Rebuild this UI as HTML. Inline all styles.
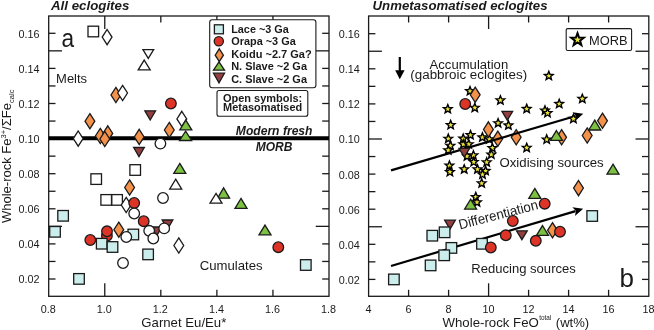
<!DOCTYPE html>
<html><head><meta charset="utf-8"><style>
html,body{margin:0;padding:0;background:#fff;}
body{width:654px;height:330px;overflow:hidden;font-family:"Liberation Sans", sans-serif;}
svg{display:block;will-change:transform;}
</style></head><body>
<svg width="654" height="330" viewBox="0 0 654 330" font-family='"Liberation Sans", sans-serif' fill="#1a1a1a">
<rect width="654" height="330" fill="#fff"/>
<rect x="48.7" y="16.0" width="280.30" height="280.30" fill="none" stroke="#1a1a1a" stroke-width="1.3"/>
<line x1="48.7" y1="279.00" x2="55.5" y2="279.00" stroke="#1a1a1a" stroke-width="1.3"/>
<line x1="329.0" y1="279.00" x2="322.2" y2="279.00" stroke="#1a1a1a" stroke-width="1.3"/>
<line x1="48.7" y1="261.45" x2="55.5" y2="261.45" stroke="#1a1a1a" stroke-width="1.3"/>
<line x1="329.0" y1="261.45" x2="322.2" y2="261.45" stroke="#1a1a1a" stroke-width="1.3"/>
<line x1="48.7" y1="243.90" x2="55.5" y2="243.90" stroke="#1a1a1a" stroke-width="1.3"/>
<line x1="329.0" y1="243.90" x2="322.2" y2="243.90" stroke="#1a1a1a" stroke-width="1.3"/>
<line x1="48.7" y1="226.35" x2="62.0" y2="226.35" stroke="#1a1a1a" stroke-width="1.3"/>
<line x1="329.0" y1="226.35" x2="315.7" y2="226.35" stroke="#1a1a1a" stroke-width="1.3"/>
<line x1="48.7" y1="208.80" x2="55.5" y2="208.80" stroke="#1a1a1a" stroke-width="1.3"/>
<line x1="329.0" y1="208.80" x2="322.2" y2="208.80" stroke="#1a1a1a" stroke-width="1.3"/>
<line x1="48.7" y1="191.25" x2="55.5" y2="191.25" stroke="#1a1a1a" stroke-width="1.3"/>
<line x1="329.0" y1="191.25" x2="322.2" y2="191.25" stroke="#1a1a1a" stroke-width="1.3"/>
<line x1="48.7" y1="173.70" x2="55.5" y2="173.70" stroke="#1a1a1a" stroke-width="1.3"/>
<line x1="329.0" y1="173.70" x2="322.2" y2="173.70" stroke="#1a1a1a" stroke-width="1.3"/>
<line x1="48.7" y1="156.15" x2="55.5" y2="156.15" stroke="#1a1a1a" stroke-width="1.3"/>
<line x1="329.0" y1="156.15" x2="322.2" y2="156.15" stroke="#1a1a1a" stroke-width="1.3"/>
<line x1="48.7" y1="138.60" x2="62.0" y2="138.60" stroke="#1a1a1a" stroke-width="1.3"/>
<line x1="329.0" y1="138.60" x2="315.7" y2="138.60" stroke="#1a1a1a" stroke-width="1.3"/>
<line x1="48.7" y1="121.05" x2="55.5" y2="121.05" stroke="#1a1a1a" stroke-width="1.3"/>
<line x1="329.0" y1="121.05" x2="322.2" y2="121.05" stroke="#1a1a1a" stroke-width="1.3"/>
<line x1="48.7" y1="103.50" x2="55.5" y2="103.50" stroke="#1a1a1a" stroke-width="1.3"/>
<line x1="329.0" y1="103.50" x2="322.2" y2="103.50" stroke="#1a1a1a" stroke-width="1.3"/>
<line x1="48.7" y1="85.95" x2="55.5" y2="85.95" stroke="#1a1a1a" stroke-width="1.3"/>
<line x1="329.0" y1="85.95" x2="322.2" y2="85.95" stroke="#1a1a1a" stroke-width="1.3"/>
<line x1="48.7" y1="68.40" x2="55.5" y2="68.40" stroke="#1a1a1a" stroke-width="1.3"/>
<line x1="329.0" y1="68.40" x2="322.2" y2="68.40" stroke="#1a1a1a" stroke-width="1.3"/>
<line x1="48.7" y1="50.85" x2="62.0" y2="50.85" stroke="#1a1a1a" stroke-width="1.3"/>
<line x1="329.0" y1="50.85" x2="315.7" y2="50.85" stroke="#1a1a1a" stroke-width="1.3"/>
<line x1="48.7" y1="33.30" x2="55.5" y2="33.30" stroke="#1a1a1a" stroke-width="1.3"/>
<line x1="329.0" y1="33.30" x2="322.2" y2="33.30" stroke="#1a1a1a" stroke-width="1.3"/>
<line x1="104.76" y1="16.0" x2="104.76" y2="29.0" stroke="#1a1a1a" stroke-width="1.3"/>
<line x1="104.76" y1="296.3" x2="104.76" y2="283.3" stroke="#1a1a1a" stroke-width="1.3"/>
<line x1="160.82" y1="16.0" x2="160.82" y2="22.5" stroke="#1a1a1a" stroke-width="1.3"/>
<line x1="160.82" y1="296.3" x2="160.82" y2="289.8" stroke="#1a1a1a" stroke-width="1.3"/>
<line x1="216.88" y1="16.0" x2="216.88" y2="22.5" stroke="#1a1a1a" stroke-width="1.3"/>
<line x1="216.88" y1="296.3" x2="216.88" y2="289.8" stroke="#1a1a1a" stroke-width="1.3"/>
<line x1="272.94" y1="16.0" x2="272.94" y2="22.5" stroke="#1a1a1a" stroke-width="1.3"/>
<line x1="272.94" y1="296.3" x2="272.94" y2="289.8" stroke="#1a1a1a" stroke-width="1.3"/>
<rect x="368.6" y="16.0" width="280.20" height="280.30" fill="none" stroke="#1a1a1a" stroke-width="1.3"/>
<line x1="368.6" y1="279.40" x2="375.40000000000003" y2="279.40" stroke="#1a1a1a" stroke-width="1.3"/>
<line x1="648.8" y1="279.40" x2="642.0" y2="279.40" stroke="#1a1a1a" stroke-width="1.3"/>
<line x1="368.6" y1="261.85" x2="375.40000000000003" y2="261.85" stroke="#1a1a1a" stroke-width="1.3"/>
<line x1="648.8" y1="261.85" x2="642.0" y2="261.85" stroke="#1a1a1a" stroke-width="1.3"/>
<line x1="368.6" y1="244.30" x2="375.40000000000003" y2="244.30" stroke="#1a1a1a" stroke-width="1.3"/>
<line x1="648.8" y1="244.30" x2="642.0" y2="244.30" stroke="#1a1a1a" stroke-width="1.3"/>
<line x1="368.6" y1="226.75" x2="381.90000000000003" y2="226.75" stroke="#1a1a1a" stroke-width="1.3"/>
<line x1="648.8" y1="226.75" x2="635.5" y2="226.75" stroke="#1a1a1a" stroke-width="1.3"/>
<line x1="368.6" y1="209.20" x2="375.40000000000003" y2="209.20" stroke="#1a1a1a" stroke-width="1.3"/>
<line x1="648.8" y1="209.20" x2="642.0" y2="209.20" stroke="#1a1a1a" stroke-width="1.3"/>
<line x1="368.6" y1="191.65" x2="375.40000000000003" y2="191.65" stroke="#1a1a1a" stroke-width="1.3"/>
<line x1="648.8" y1="191.65" x2="642.0" y2="191.65" stroke="#1a1a1a" stroke-width="1.3"/>
<line x1="368.6" y1="174.10" x2="375.40000000000003" y2="174.10" stroke="#1a1a1a" stroke-width="1.3"/>
<line x1="648.8" y1="174.10" x2="642.0" y2="174.10" stroke="#1a1a1a" stroke-width="1.3"/>
<line x1="368.6" y1="156.55" x2="375.40000000000003" y2="156.55" stroke="#1a1a1a" stroke-width="1.3"/>
<line x1="648.8" y1="156.55" x2="642.0" y2="156.55" stroke="#1a1a1a" stroke-width="1.3"/>
<line x1="368.6" y1="139.00" x2="381.90000000000003" y2="139.00" stroke="#1a1a1a" stroke-width="1.3"/>
<line x1="648.8" y1="139.00" x2="635.5" y2="139.00" stroke="#1a1a1a" stroke-width="1.3"/>
<line x1="368.6" y1="121.45" x2="375.40000000000003" y2="121.45" stroke="#1a1a1a" stroke-width="1.3"/>
<line x1="648.8" y1="121.45" x2="642.0" y2="121.45" stroke="#1a1a1a" stroke-width="1.3"/>
<line x1="368.6" y1="103.90" x2="375.40000000000003" y2="103.90" stroke="#1a1a1a" stroke-width="1.3"/>
<line x1="648.8" y1="103.90" x2="642.0" y2="103.90" stroke="#1a1a1a" stroke-width="1.3"/>
<line x1="368.6" y1="86.35" x2="375.40000000000003" y2="86.35" stroke="#1a1a1a" stroke-width="1.3"/>
<line x1="648.8" y1="86.35" x2="642.0" y2="86.35" stroke="#1a1a1a" stroke-width="1.3"/>
<line x1="368.6" y1="68.80" x2="375.40000000000003" y2="68.80" stroke="#1a1a1a" stroke-width="1.3"/>
<line x1="648.8" y1="68.80" x2="642.0" y2="68.80" stroke="#1a1a1a" stroke-width="1.3"/>
<line x1="368.6" y1="51.25" x2="381.90000000000003" y2="51.25" stroke="#1a1a1a" stroke-width="1.3"/>
<line x1="648.8" y1="51.25" x2="635.5" y2="51.25" stroke="#1a1a1a" stroke-width="1.3"/>
<line x1="368.6" y1="33.70" x2="375.40000000000003" y2="33.70" stroke="#1a1a1a" stroke-width="1.3"/>
<line x1="648.8" y1="33.70" x2="642.0" y2="33.70" stroke="#1a1a1a" stroke-width="1.3"/>
<line x1="408.60" y1="16.0" x2="408.60" y2="22.5" stroke="#1a1a1a" stroke-width="1.3"/>
<line x1="408.60" y1="296.3" x2="408.60" y2="289.8" stroke="#1a1a1a" stroke-width="1.3"/>
<line x1="448.60" y1="16.0" x2="448.60" y2="22.5" stroke="#1a1a1a" stroke-width="1.3"/>
<line x1="448.60" y1="296.3" x2="448.60" y2="289.8" stroke="#1a1a1a" stroke-width="1.3"/>
<line x1="488.60" y1="16.0" x2="488.60" y2="29.0" stroke="#1a1a1a" stroke-width="1.3"/>
<line x1="488.60" y1="296.3" x2="488.60" y2="283.3" stroke="#1a1a1a" stroke-width="1.3"/>
<line x1="528.60" y1="16.0" x2="528.60" y2="22.5" stroke="#1a1a1a" stroke-width="1.3"/>
<line x1="528.60" y1="296.3" x2="528.60" y2="289.8" stroke="#1a1a1a" stroke-width="1.3"/>
<line x1="568.60" y1="16.0" x2="568.60" y2="22.5" stroke="#1a1a1a" stroke-width="1.3"/>
<line x1="568.60" y1="296.3" x2="568.60" y2="289.8" stroke="#1a1a1a" stroke-width="1.3"/>
<line x1="608.60" y1="16.0" x2="608.60" y2="22.5" stroke="#1a1a1a" stroke-width="1.3"/>
<line x1="608.60" y1="296.3" x2="608.60" y2="289.8" stroke="#1a1a1a" stroke-width="1.3"/>
<text x="39.5" y="283.4" font-size="10.8" text-anchor="end" font-weight="normal" font-style="normal">0.02</text>
<text x="359.8" y="283.8" font-size="10.8" text-anchor="end" font-weight="normal" font-style="normal">0.02</text>
<text x="39.5" y="248.3" font-size="10.8" text-anchor="end" font-weight="normal" font-style="normal">0.04</text>
<text x="359.8" y="248.7" font-size="10.8" text-anchor="end" font-weight="normal" font-style="normal">0.04</text>
<text x="39.5" y="213.2" font-size="10.8" text-anchor="end" font-weight="normal" font-style="normal">0.06</text>
<text x="359.8" y="213.6" font-size="10.8" text-anchor="end" font-weight="normal" font-style="normal">0.06</text>
<text x="39.5" y="178.1" font-size="10.8" text-anchor="end" font-weight="normal" font-style="normal">0.08</text>
<text x="359.8" y="178.5" font-size="10.8" text-anchor="end" font-weight="normal" font-style="normal">0.08</text>
<text x="39.5" y="143.0" font-size="10.8" text-anchor="end" font-weight="normal" font-style="normal">0.10</text>
<text x="359.8" y="143.4" font-size="10.8" text-anchor="end" font-weight="normal" font-style="normal">0.10</text>
<text x="39.5" y="107.9" font-size="10.8" text-anchor="end" font-weight="normal" font-style="normal">0.12</text>
<text x="359.8" y="108.3" font-size="10.8" text-anchor="end" font-weight="normal" font-style="normal">0.12</text>
<text x="39.5" y="72.8" font-size="10.8" text-anchor="end" font-weight="normal" font-style="normal">0.14</text>
<text x="359.8" y="73.2" font-size="10.8" text-anchor="end" font-weight="normal" font-style="normal">0.14</text>
<text x="39.5" y="37.7" font-size="10.8" text-anchor="end" font-weight="normal" font-style="normal">0.16</text>
<text x="359.8" y="38.1" font-size="10.8" text-anchor="end" font-weight="normal" font-style="normal">0.16</text>
<text x="48.2" y="312.7" font-size="10.8" text-anchor="middle" font-weight="normal" font-style="normal">0.8</text>
<text x="104.3" y="312.7" font-size="10.8" text-anchor="middle" font-weight="normal" font-style="normal">1.0</text>
<text x="160.3" y="312.7" font-size="10.8" text-anchor="middle" font-weight="normal" font-style="normal">1.2</text>
<text x="216.4" y="312.7" font-size="10.8" text-anchor="middle" font-weight="normal" font-style="normal">1.4</text>
<text x="272.4" y="312.7" font-size="10.8" text-anchor="middle" font-weight="normal" font-style="normal">1.6</text>
<text x="328.5" y="312.7" font-size="10.8" text-anchor="middle" font-weight="normal" font-style="normal">1.8</text>
<text x="368.6" y="312.7" font-size="10.8" text-anchor="middle" font-weight="normal" font-style="normal">4</text>
<text x="408.6" y="312.7" font-size="10.8" text-anchor="middle" font-weight="normal" font-style="normal">6</text>
<text x="448.6" y="312.7" font-size="10.8" text-anchor="middle" font-weight="normal" font-style="normal">8</text>
<text x="488.6" y="312.7" font-size="10.8" text-anchor="middle" font-weight="normal" font-style="normal">10</text>
<text x="528.6" y="312.7" font-size="10.8" text-anchor="middle" font-weight="normal" font-style="normal">12</text>
<text x="568.6" y="312.7" font-size="10.8" text-anchor="middle" font-weight="normal" font-style="normal">14</text>
<text x="608.6" y="312.7" font-size="10.8" text-anchor="middle" font-weight="normal" font-style="normal">16</text>
<text x="648.6" y="312.7" font-size="10.8" text-anchor="middle" font-weight="normal" font-style="normal">18</text>
<text x="51" y="9.6" font-size="13.2" text-anchor="start" font-weight="bold" font-style="italic" textLength="78.3" lengthAdjust="spacingAndGlyphs">All eclogites</text>
<text x="372.5" y="9.6" font-size="13.2" text-anchor="start" font-weight="bold" font-style="italic" textLength="175" lengthAdjust="spacingAndGlyphs">Unmetasomatised eclogites</text>
<text x="141.3" y="327.3" font-size="13" text-anchor="start" font-weight="normal" font-style="normal" textLength="85" lengthAdjust="spacingAndGlyphs">Garnet Eu/Eu*</text>
<text x="442.5" y="327.2" font-size="13" text-anchor="start" font-weight="normal" font-style="normal" textLength="96.3" lengthAdjust="spacingAndGlyphs">Whole-rock FeO</text>
<text x="539.2" y="320.3" font-size="6.8" text-anchor="start" font-weight="normal" font-style="normal" textLength="12.1" lengthAdjust="spacingAndGlyphs">total</text>
<text x="555.8" y="327.2" font-size="13" text-anchor="start" font-weight="normal" font-style="normal" textLength="33.4" lengthAdjust="spacingAndGlyphs">(wt%)</text>
<text transform="translate(11.0,223.0) rotate(-90)" x="0" y="0" font-size="13">Whole-rock Fe<tspan font-size="7.5" dy="-5">3+</tspan><tspan dy="5">/&#931;Fe</tspan><tspan font-size="7.6" dy="3">calc</tspan></text>
<line x1="48.7" y1="138.2" x2="329.0" y2="138.2" stroke="#000" stroke-width="4"/>
<text x="61.6" y="47.0" font-size="26.5" text-anchor="start" font-weight="normal" font-style="normal" textLength="12.6" lengthAdjust="spacingAndGlyphs">a</text>
<text x="56.1" y="82.6" font-size="13" text-anchor="start" font-weight="normal" font-style="normal" textLength="31.0" lengthAdjust="spacingAndGlyphs">Melts</text>
<text x="199.7" y="269.6" font-size="13.2" text-anchor="start" font-weight="normal" font-style="normal" textLength="63.0" lengthAdjust="spacingAndGlyphs">Cumulates</text>
<text x="235.8" y="134.5" font-size="12" text-anchor="start" font-weight="bold" font-style="italic" textLength="76.7" lengthAdjust="spacingAndGlyphs">Modern fresh</text>
<text x="255.7" y="150.8" font-size="12" text-anchor="start" font-weight="bold" font-style="italic" textLength="36.7" lengthAdjust="spacingAndGlyphs">MORB</text>
<rect x="88.00" y="26.20" width="10.6" height="10.6" fill="#fff" stroke="#1a1a1a" stroke-width="1.3"/>
<path d="M107.10 29.50L112.00 37.10L107.10 44.70L102.20 37.10Z" fill="#fff" stroke="#1a1a1a" stroke-width="1.3"/>
<path d="M148.30 58.40L153.65 49.70L142.95 49.70Z" fill="#fff" stroke="#1a1a1a" stroke-width="1.3"/>
<path d="M144.20 60.10L150.20 69.80L138.20 69.80Z" fill="#fff" stroke="#1a1a1a" stroke-width="1.3" stroke-linejoin="miter"/>
<path d="M115.90 87.40L120.80 95.00L115.90 102.60L111.00 95.00Z" fill="#f4924b" stroke="#1a1a1a" stroke-width="1.3"/>
<path d="M122.60 85.40L127.50 93.00L122.60 100.60L117.70 93.00Z" fill="#fff" stroke="#1a1a1a" stroke-width="1.3"/>
<circle cx="170.90" cy="103.50" r="5.3" fill="#de3427" stroke="#1a1a1a" stroke-width="1.3"/>
<path d="M150.20 120.00L155.55 110.80L144.85 110.80Z" fill="#933f3f" stroke="#1a1a1a" stroke-width="1.3"/>
<path d="M89.90 113.60L94.80 121.20L89.90 128.80L85.00 121.20Z" fill="#f4924b" stroke="#1a1a1a" stroke-width="1.3"/>
<path d="M181.80 111.30L186.70 118.90L181.80 126.50L176.90 118.90Z" fill="#fff" stroke="#1a1a1a" stroke-width="1.3"/>
<path d="M185.80 120.10L191.80 129.80L179.80 129.80Z" fill="#7cc142" stroke="#1a1a1a" stroke-width="1.3" stroke-linejoin="miter"/>
<path d="M169.30 122.40L174.20 130.00L169.30 137.60L164.40 130.00Z" fill="#f4924b" stroke="#1a1a1a" stroke-width="1.3"/>
<path d="M185.60 131.20L191.60 140.50L179.60 140.50Z" fill="#7cc142" stroke="#1a1a1a" stroke-width="1.3" stroke-linejoin="miter"/>
<path d="M78.20 131.00L83.10 138.60L78.20 146.20L73.30 138.60Z" fill="#fff" stroke="#1a1a1a" stroke-width="1.3"/>
<path d="M100.30 128.40L105.20 136.00L100.30 143.60L95.40 136.00Z" fill="#f4924b" stroke="#1a1a1a" stroke-width="1.3"/>
<path d="M107.80 125.80L112.70 133.40L107.80 141.00L102.90 133.40Z" fill="#f4924b" stroke="#1a1a1a" stroke-width="1.3"/>
<path d="M104.80 131.40L109.70 139.00L104.80 146.60L99.90 139.00Z" fill="#f4924b" stroke="#1a1a1a" stroke-width="1.3"/>
<path d="M139.20 129.30L144.10 136.90L139.20 144.50L134.30 136.90Z" fill="#f4924b" stroke="#1a1a1a" stroke-width="1.3"/>
<circle cx="160.40" cy="143.60" r="5.3" fill="#fff" stroke="#1a1a1a" stroke-width="1.3"/>
<path d="M139.00 156.70L144.35 147.50L133.65 147.50Z" fill="#933f3f" stroke="#1a1a1a" stroke-width="1.3"/>
<rect x="129.90" y="164.70" width="10.6" height="10.6" fill="#fff" stroke="#1a1a1a" stroke-width="1.3"/>
<path d="M179.80 163.40L185.80 173.30L173.80 173.30Z" fill="#7cc142" stroke="#1a1a1a" stroke-width="1.3" stroke-linejoin="miter"/>
<rect x="90.90" y="173.80" width="10.6" height="10.6" fill="#fff" stroke="#1a1a1a" stroke-width="1.3"/>
<path d="M175.70 179.20L181.70 189.20L169.70 189.20Z" fill="#fff" stroke="#1a1a1a" stroke-width="1.3" stroke-linejoin="miter"/>
<path d="M129.60 179.90L134.50 187.50L129.60 195.10L124.70 187.50Z" fill="#f4924b" stroke="#1a1a1a" stroke-width="1.3"/>
<path d="M223.60 187.90L229.60 198.20L217.60 198.20Z" fill="#7cc142" stroke="#1a1a1a" stroke-width="1.3" stroke-linejoin="miter"/>
<path d="M216.00 193.40L222.00 203.20L210.00 203.20Z" fill="#fff" stroke="#1a1a1a" stroke-width="1.3" stroke-linejoin="miter"/>
<path d="M241.00 198.40L247.00 208.30L235.00 208.30Z" fill="#7cc142" stroke="#1a1a1a" stroke-width="1.3" stroke-linejoin="miter"/>
<circle cx="163.00" cy="198.00" r="5.3" fill="#fff" stroke="#1a1a1a" stroke-width="1.3"/>
<rect x="100.90" y="194.60" width="10.6" height="10.6" fill="#fff" stroke="#1a1a1a" stroke-width="1.3"/>
<rect x="111.80" y="194.60" width="10.6" height="10.6" fill="#fff" stroke="#1a1a1a" stroke-width="1.3"/>
<path d="M126.20 197.40L131.10 205.00L126.20 212.60L121.30 205.00Z" fill="#fff" stroke="#1a1a1a" stroke-width="1.3"/>
<circle cx="134.20" cy="203.00" r="5.3" fill="#de3427" stroke="#1a1a1a" stroke-width="1.3"/>
<circle cx="134.20" cy="213.50" r="5.3" fill="#fff" stroke="#1a1a1a" stroke-width="1.3"/>
<circle cx="143.70" cy="221.20" r="5.3" fill="#de3427" stroke="#1a1a1a" stroke-width="1.3"/>
<rect x="57.80" y="210.50" width="10.6" height="10.6" fill="#cbeeed" stroke="#1a1a1a" stroke-width="1.3"/>
<path d="M167.50 229.20L172.85 220.00L162.15 220.00Z" fill="#933f3f" stroke="#1a1a1a" stroke-width="1.3"/>
<path d="M156.70 235.70L162.05 227.00L151.35 227.00Z" fill="#933f3f" stroke="#1a1a1a" stroke-width="1.3"/>
<circle cx="164.20" cy="228.40" r="5.3" fill="#fff" stroke="#1a1a1a" stroke-width="1.3"/>
<circle cx="149.20" cy="230.80" r="5.3" fill="#fff" stroke="#1a1a1a" stroke-width="1.3"/>
<circle cx="153.30" cy="238.50" r="5.3" fill="#fff" stroke="#1a1a1a" stroke-width="1.3"/>
<path d="M265.00 225.10L271.00 234.80L259.00 234.80Z" fill="#7cc142" stroke="#1a1a1a" stroke-width="1.3" stroke-linejoin="miter"/>
<circle cx="106.90" cy="235.80" r="5.3" fill="#de3427" stroke="#1a1a1a" stroke-width="1.3"/>
<circle cx="107.00" cy="231.30" r="5.3" fill="#de3427" stroke="#1a1a1a" stroke-width="1.3"/>
<rect x="49.70" y="226.50" width="10.6" height="10.6" fill="#cbeeed" stroke="#1a1a1a" stroke-width="1.3"/>
<circle cx="90.30" cy="240.00" r="5.3" fill="#de3427" stroke="#1a1a1a" stroke-width="1.3"/>
<path d="M118.80 222.10L123.70 229.70L118.80 237.30L113.90 229.70Z" fill="#f4924b" stroke="#1a1a1a" stroke-width="1.3"/>
<rect x="128.00" y="229.20" width="10.6" height="10.6" fill="#cbeeed" stroke="#1a1a1a" stroke-width="1.3"/>
<circle cx="126.30" cy="237.00" r="5.3" fill="#fff" stroke="#1a1a1a" stroke-width="1.3"/>
<rect x="96.40" y="238.40" width="10.6" height="10.6" fill="#cbeeed" stroke="#1a1a1a" stroke-width="1.3"/>
<rect x="107.20" y="241.70" width="10.6" height="10.6" fill="#cbeeed" stroke="#1a1a1a" stroke-width="1.3"/>
<path d="M178.80 237.90L183.70 245.50L178.80 253.10L173.90 245.50Z" fill="#fff" stroke="#1a1a1a" stroke-width="1.3"/>
<circle cx="278.30" cy="247.20" r="5.3" fill="#de3427" stroke="#1a1a1a" stroke-width="1.3"/>
<rect x="142.80" y="249.10" width="10.6" height="10.6" fill="#cbeeed" stroke="#1a1a1a" stroke-width="1.3"/>
<circle cx="123.00" cy="263.00" r="5.3" fill="#fff" stroke="#1a1a1a" stroke-width="1.3"/>
<rect x="300.50" y="259.70" width="10.6" height="10.6" fill="#cbeeed" stroke="#1a1a1a" stroke-width="1.3"/>
<rect x="73.70" y="273.60" width="10.6" height="10.6" fill="#cbeeed" stroke="#1a1a1a" stroke-width="1.3"/>
<rect x="209.7" y="19.7" width="106.2" height="68.0" rx="2.5" fill="#fff" stroke="#1a1a1a" stroke-width="1.1"/>
<rect x="214.40" y="24.80" width="9" height="9" fill="#cbeeed" stroke="#1a1a1a" stroke-width="1.3"/>
<circle cx="218.80" cy="41.30" r="4.6" fill="#de3427" stroke="#1a1a1a" stroke-width="1.3"/>
<path d="M219.30 48.80L223.40 55.20L219.30 61.60L215.20 55.20Z" fill="#f4924b" stroke="#1a1a1a" stroke-width="1.3"/>
<path d="M219.00 61.90L224.50 70.10L213.50 70.10Z" fill="#7cc142" stroke="#1a1a1a" stroke-width="1.3" stroke-linejoin="miter"/>
<path d="M219.00 82.90L224.50 73.20L213.50 73.20Z" fill="#933f3f" stroke="#1a1a1a" stroke-width="1.3"/>
<text x="231.2" y="32.90" font-size="10.3" text-anchor="start" font-weight="bold" font-style="normal" textLength="57.6" lengthAdjust="spacingAndGlyphs">Lace ~3 Ga</text>
<text x="231.2" y="45.35" font-size="10.3" text-anchor="start" font-weight="bold" font-style="normal" textLength="64.6" lengthAdjust="spacingAndGlyphs">Orapa ~3 Ga</text>
<text x="231.2" y="57.80" font-size="10.3" text-anchor="start" font-weight="bold" font-style="normal" textLength="80.5" lengthAdjust="spacingAndGlyphs">Koidu ~2.7 Ga?</text>
<text x="231.2" y="70.25" font-size="10.3" text-anchor="start" font-weight="bold" font-style="normal" textLength="75.8" lengthAdjust="spacingAndGlyphs">N. Slave ~2 Ga</text>
<text x="231.2" y="82.70" font-size="10.3" text-anchor="start" font-weight="bold" font-style="normal" textLength="75.8" lengthAdjust="spacingAndGlyphs">C. Slave ~2 Ga</text>
<rect x="217.0" y="90.5" width="90.8" height="25.7" rx="2" fill="#fff" stroke="#1a1a1a" stroke-width="1.1"/>
<text x="223.0" y="101.7" font-size="10.2" text-anchor="start" font-weight="bold" font-style="normal" textLength="79.2" lengthAdjust="spacingAndGlyphs">Open symbols:</text>
<text x="223.0" y="111.3" font-size="10.2" text-anchor="start" font-weight="bold" font-style="normal" textLength="79.2" lengthAdjust="spacingAndGlyphs">Metasomatised</text>
<circle cx="465.20" cy="104.00" r="5.3" fill="#de3427" stroke="#1a1a1a" stroke-width="1.3"/>
<path d="M507.30 120.20L512.65 111.30L501.95 111.30Z" fill="#933f3f" stroke="#1a1a1a" stroke-width="1.3"/>
<path d="M548.80 71.35L549.98 74.28L553.13 74.49L550.70 76.52L551.47 79.58L548.80 77.90L546.13 79.58L546.90 76.52L544.47 74.49L547.62 74.28Z" fill="#ece43c" stroke="#000" stroke-width="1.4" stroke-linejoin="miter"/>
<path d="M470.00 86.55L471.18 89.48L474.33 89.69L471.90 91.72L472.67 94.78L470.00 93.10L467.33 94.78L468.10 91.72L465.67 89.69L468.82 89.48Z" fill="#ece43c" stroke="#000" stroke-width="1.4" stroke-linejoin="miter"/>
<path d="M500.40 95.75L501.58 98.68L504.73 98.89L502.30 100.92L503.07 103.98L500.40 102.30L497.73 103.98L498.50 100.92L496.07 98.89L499.22 98.68Z" fill="#ece43c" stroke="#000" stroke-width="1.4" stroke-linejoin="miter"/>
<path d="M582.30 94.25L583.48 97.18L586.63 97.39L584.20 99.42L584.97 102.48L582.30 100.80L579.63 102.48L580.40 99.42L577.97 97.39L581.12 97.18Z" fill="#ece43c" stroke="#000" stroke-width="1.4" stroke-linejoin="miter"/>
<path d="M559.20 99.35L560.38 102.28L563.53 102.49L561.10 104.52L561.87 107.58L559.20 105.90L556.53 107.58L557.30 104.52L554.87 102.49L558.02 102.28Z" fill="#ece43c" stroke="#000" stroke-width="1.4" stroke-linejoin="miter"/>
<path d="M447.80 104.55L448.98 107.48L452.13 107.69L449.70 109.72L450.47 112.78L447.80 111.10L445.13 112.78L445.90 109.72L443.47 107.69L446.62 107.48Z" fill="#ece43c" stroke="#000" stroke-width="1.4" stroke-linejoin="miter"/>
<path d="M474.80 103.25L475.98 106.18L479.13 106.39L476.70 108.42L477.47 111.48L474.80 109.80L472.13 111.48L472.90 108.42L470.47 106.39L473.62 106.18Z" fill="#ece43c" stroke="#000" stroke-width="1.4" stroke-linejoin="miter"/>
<path d="M526.70 104.35L527.88 107.28L531.03 107.49L528.60 109.52L529.37 112.58L526.70 110.90L524.03 112.58L524.80 109.52L522.37 107.49L525.52 107.28Z" fill="#ece43c" stroke="#000" stroke-width="1.4" stroke-linejoin="miter"/>
<path d="M545.00 105.95L546.18 108.88L549.33 109.09L546.90 111.12L547.67 114.18L545.00 112.50L542.33 114.18L543.10 111.12L540.67 109.09L543.82 108.88Z" fill="#ece43c" stroke="#000" stroke-width="1.4" stroke-linejoin="miter"/>
<path d="M547.50 108.45L548.68 111.38L551.83 111.59L549.40 113.62L550.17 116.68L547.50 115.00L544.83 116.68L545.60 113.62L543.17 111.59L546.32 111.38Z" fill="#ece43c" stroke="#000" stroke-width="1.4" stroke-linejoin="miter"/>
<path d="M498.10 118.65L499.28 121.58L502.43 121.79L500.00 123.82L500.77 126.88L498.10 125.20L495.43 126.88L496.20 123.82L493.77 121.79L496.92 121.58Z" fill="#ece43c" stroke="#000" stroke-width="1.4" stroke-linejoin="miter"/>
<path d="M508.40 120.85L509.58 123.78L512.73 123.99L510.30 126.02L511.07 129.08L508.40 127.40L505.73 129.08L506.50 126.02L504.07 123.99L507.22 123.78Z" fill="#ece43c" stroke="#000" stroke-width="1.4" stroke-linejoin="miter"/>
<path d="M450.70 120.45L451.88 123.38L455.03 123.59L452.60 125.62L453.37 128.68L450.70 127.00L448.03 128.68L448.80 125.62L446.37 123.59L449.52 123.38Z" fill="#ece43c" stroke="#000" stroke-width="1.4" stroke-linejoin="miter"/>
<path d="M470.50 130.55L471.68 133.48L474.83 133.69L472.40 135.72L473.17 138.78L470.50 137.10L467.83 138.78L468.60 135.72L466.17 133.69L469.32 133.48Z" fill="#ece43c" stroke="#000" stroke-width="1.4" stroke-linejoin="miter"/>
<path d="M448.30 134.15L449.48 137.08L452.63 137.29L450.20 139.32L450.97 142.38L448.30 140.70L445.63 142.38L446.40 139.32L443.97 137.29L447.12 137.08Z" fill="#ece43c" stroke="#000" stroke-width="1.4" stroke-linejoin="miter"/>
<path d="M463.20 134.05L464.38 136.98L467.53 137.19L465.10 139.22L465.87 142.28L463.20 140.60L460.53 142.28L461.30 139.22L458.87 137.19L462.02 136.98Z" fill="#ece43c" stroke="#000" stroke-width="1.4" stroke-linejoin="miter"/>
<path d="M482.40 132.85L483.58 135.78L486.73 135.99L484.30 138.02L485.07 141.08L482.40 139.40L479.73 141.08L480.50 138.02L478.07 135.99L481.22 135.78Z" fill="#ece43c" stroke="#000" stroke-width="1.4" stroke-linejoin="miter"/>
<path d="M489.30 134.65L490.48 137.58L493.63 137.79L491.20 139.82L491.97 142.88L489.30 141.20L486.63 142.88L487.40 139.82L484.97 137.79L488.12 137.58Z" fill="#ece43c" stroke="#000" stroke-width="1.4" stroke-linejoin="miter"/>
<path d="M450.40 141.25L451.58 144.18L454.73 144.39L452.30 146.42L453.07 149.48L450.40 147.80L447.73 149.48L448.50 146.42L446.07 144.39L449.22 144.18Z" fill="#ece43c" stroke="#000" stroke-width="1.4" stroke-linejoin="miter"/>
<path d="M448.20 145.75L449.38 148.68L452.53 148.89L450.10 150.92L450.87 153.98L448.20 152.30L445.53 153.98L446.30 150.92L443.87 148.89L447.02 148.68Z" fill="#ece43c" stroke="#000" stroke-width="1.4" stroke-linejoin="miter"/>
<path d="M463.30 139.75L464.48 142.68L467.63 142.89L465.20 144.92L465.97 147.98L463.30 146.30L460.63 147.98L461.40 144.92L458.97 142.89L462.12 142.68Z" fill="#ece43c" stroke="#000" stroke-width="1.4" stroke-linejoin="miter"/>
<path d="M468.80 139.65L469.98 142.58L473.13 142.79L470.70 144.82L471.47 147.88L468.80 146.20L466.13 147.88L466.90 144.82L464.47 142.79L467.62 142.58Z" fill="#ece43c" stroke="#000" stroke-width="1.4" stroke-linejoin="miter"/>
<path d="M492.40 143.45L493.58 146.38L496.73 146.59L494.30 148.62L495.07 151.68L492.40 150.00L489.73 151.68L490.50 148.62L488.07 146.59L491.22 146.38Z" fill="#ece43c" stroke="#000" stroke-width="1.4" stroke-linejoin="miter"/>
<path d="M491.30 149.95L492.48 152.88L495.63 153.09L493.20 155.12L493.97 158.18L491.30 156.50L488.63 158.18L489.40 155.12L486.97 153.09L490.12 152.88Z" fill="#ece43c" stroke="#000" stroke-width="1.4" stroke-linejoin="miter"/>
<path d="M473.40 150.75L474.58 153.68L477.73 153.89L475.30 155.92L476.07 158.98L473.40 157.30L470.73 158.98L471.50 155.92L469.07 153.89L472.22 153.68Z" fill="#ece43c" stroke="#000" stroke-width="1.4" stroke-linejoin="miter"/>
<path d="M467.00 151.75L468.18 154.68L471.33 154.89L468.90 156.92L469.67 159.98L467.00 158.30L464.33 159.98L465.10 156.92L462.67 154.89L465.82 154.68Z" fill="#ece43c" stroke="#000" stroke-width="1.4" stroke-linejoin="miter"/>
<path d="M473.70 157.45L474.88 160.38L478.03 160.59L475.60 162.62L476.37 165.68L473.70 164.00L471.03 165.68L471.80 162.62L469.37 160.59L472.52 160.38Z" fill="#ece43c" stroke="#000" stroke-width="1.4" stroke-linejoin="miter"/>
<path d="M486.70 157.75L487.88 160.68L491.03 160.89L488.60 162.92L489.37 165.98L486.70 164.30L484.03 165.98L484.80 162.92L482.37 160.89L485.52 160.68Z" fill="#ece43c" stroke="#000" stroke-width="1.4" stroke-linejoin="miter"/>
<path d="M449.40 161.05L450.58 163.98L453.73 164.19L451.30 166.22L452.07 169.28L449.40 167.60L446.73 169.28L447.50 166.22L445.07 164.19L448.22 163.98Z" fill="#ece43c" stroke="#000" stroke-width="1.4" stroke-linejoin="miter"/>
<path d="M449.90 167.45L451.08 170.38L454.23 170.59L451.80 172.62L452.57 175.68L449.90 174.00L447.23 175.68L448.00 172.62L445.57 170.59L448.72 170.38Z" fill="#ece43c" stroke="#000" stroke-width="1.4" stroke-linejoin="miter"/>
<path d="M464.20 164.75L465.38 167.68L468.53 167.89L466.10 169.92L466.87 172.98L464.20 171.30L461.53 172.98L462.30 169.92L459.87 167.89L463.02 167.68Z" fill="#ece43c" stroke="#000" stroke-width="1.4" stroke-linejoin="miter"/>
<path d="M477.50 164.75L478.68 167.68L481.83 167.89L479.40 169.92L480.17 172.98L477.50 171.30L474.83 172.98L475.60 169.92L473.17 167.89L476.32 167.68Z" fill="#ece43c" stroke="#000" stroke-width="1.4" stroke-linejoin="miter"/>
<path d="M485.60 166.35L486.78 169.28L489.93 169.49L487.50 171.52L488.27 174.58L485.60 172.90L482.93 174.58L483.70 171.52L481.27 169.49L484.42 169.28Z" fill="#ece43c" stroke="#000" stroke-width="1.4" stroke-linejoin="miter"/>
<path d="M482.50 169.95L483.68 172.88L486.83 173.09L484.40 175.12L485.17 178.18L482.50 176.50L479.83 178.18L480.60 175.12L478.17 173.09L481.32 172.88Z" fill="#ece43c" stroke="#000" stroke-width="1.4" stroke-linejoin="miter"/>
<path d="M481.70 178.75L482.88 181.68L486.03 181.89L483.60 183.92L484.37 186.98L481.70 185.30L479.03 186.98L479.80 183.92L477.37 181.89L480.52 181.68Z" fill="#ece43c" stroke="#000" stroke-width="1.4" stroke-linejoin="miter"/>
<path d="M475.80 192.45L476.98 195.38L480.13 195.59L477.70 197.62L478.47 200.68L475.80 199.00L473.13 200.68L473.90 197.62L471.47 195.59L474.62 195.38Z" fill="#ece43c" stroke="#000" stroke-width="1.4" stroke-linejoin="miter"/>
<path d="M477.00 197.75L478.18 200.68L481.33 200.89L478.90 202.92L479.67 205.98L477.00 204.30L474.33 205.98L475.10 202.92L472.67 200.89L475.82 200.68Z" fill="#ece43c" stroke="#000" stroke-width="1.4" stroke-linejoin="miter"/>
<path d="M526.70 143.25L527.88 146.18L531.03 146.39L528.60 148.42L529.37 151.48L526.70 149.80L524.03 151.48L524.80 148.42L522.37 146.39L525.52 146.18Z" fill="#ece43c" stroke="#000" stroke-width="1.4" stroke-linejoin="miter"/>
<path d="M546.70 134.95L547.88 137.88L551.03 138.09L548.60 140.12L549.37 143.18L546.70 141.50L544.03 143.18L544.80 140.12L542.37 138.09L545.52 137.88Z" fill="#ece43c" stroke="#000" stroke-width="1.4" stroke-linejoin="miter"/>
<path d="M475.20 87.20L480.10 94.80L475.20 102.40L470.30 94.80Z" fill="#f4924b" stroke="#1a1a1a" stroke-width="1.3"/>
<path d="M488.40 121.80L493.30 129.40L488.40 137.00L483.50 129.40Z" fill="#f4924b" stroke="#1a1a1a" stroke-width="1.3"/>
<path d="M497.80 131.20L502.70 138.80L497.80 146.40L492.90 138.80Z" fill="#f4924b" stroke="#1a1a1a" stroke-width="1.3"/>
<path d="M516.20 129.70L521.10 137.30L516.20 144.90L511.30 137.30Z" fill="#f4924b" stroke="#1a1a1a" stroke-width="1.3"/>
<line x1="391" y1="170.4" x2="575.63" y2="116.06" stroke="#000" stroke-width="2.2"/>
<path d="M583.30 113.80L574.98 120.94L576.11 115.92L572.44 112.31Z" fill="#000"/>
<path d="M464.30 157.00L469.65 148.30L458.95 148.30Z" fill="#933f3f" stroke="#1a1a1a" stroke-width="1.3"/>
<path d="M573.40 114.25L574.58 117.18L577.73 117.39L575.30 119.42L576.07 122.48L573.40 120.80L570.73 122.48L571.50 119.42L569.07 117.39L572.22 117.18Z" fill="#ece43c" stroke="#000" stroke-width="1.4" stroke-linejoin="miter"/>
<path d="M602.50 113.20L607.40 120.80L602.50 128.40L597.60 120.80Z" fill="#f4924b" stroke="#1a1a1a" stroke-width="1.3"/>
<path d="M587.20 127.90L592.10 135.50L587.20 143.10L582.30 135.50Z" fill="#f4924b" stroke="#1a1a1a" stroke-width="1.3"/>
<path d="M594.80 120.10L600.80 130.00L588.80 130.00Z" fill="#7cc142" stroke="#1a1a1a" stroke-width="1.3" stroke-linejoin="miter"/>
<path d="M561.60 129.70L566.50 137.30L561.60 144.90L556.70 137.30Z" fill="#f4924b" stroke="#1a1a1a" stroke-width="1.3"/>
<path d="M556.40 130.60L562.40 140.30L550.40 140.30Z" fill="#7cc142" stroke="#1a1a1a" stroke-width="1.3" stroke-linejoin="miter"/>
<path d="M613.00 164.20L619.00 174.20L607.00 174.20Z" fill="#7cc142" stroke="#1a1a1a" stroke-width="1.3" stroke-linejoin="miter"/>
<path d="M578.50 180.50L583.40 188.10L578.50 195.70L573.60 188.10Z" fill="#f4924b" stroke="#1a1a1a" stroke-width="1.3"/>
<path d="M534.80 188.40L540.80 198.30L528.80 198.30Z" fill="#7cc142" stroke="#1a1a1a" stroke-width="1.3" stroke-linejoin="miter"/>
<circle cx="544.70" cy="203.70" r="5.3" fill="#de3427" stroke="#1a1a1a" stroke-width="1.3"/>
<path d="M470.60 199.20L476.60 209.20L464.60 209.20Z" fill="#7cc142" stroke="#1a1a1a" stroke-width="1.3" stroke-linejoin="miter"/>
<line x1="391" y1="266" x2="575.53" y2="211.08" stroke="#000" stroke-width="2.2"/>
<path d="M583.20 208.80L574.90 215.97L576.01 210.94L572.33 207.34Z" fill="#000"/>
<path d="M450.00 229.20L455.35 220.20L444.65 220.20Z" fill="#933f3f" stroke="#1a1a1a" stroke-width="1.3"/>
<circle cx="512.80" cy="221.00" r="5.3" fill="#de3427" stroke="#1a1a1a" stroke-width="1.3"/>
<rect x="427.00" y="230.40" width="10.6" height="10.6" fill="#cbeeed" stroke="#1a1a1a" stroke-width="1.3"/>
<rect x="439.30" y="227.00" width="10.6" height="10.6" fill="#cbeeed" stroke="#1a1a1a" stroke-width="1.3"/>
<circle cx="505.80" cy="235.30" r="5.3" fill="#de3427" stroke="#1a1a1a" stroke-width="1.3"/>
<path d="M521.90 239.70L527.25 230.80L516.55 230.80Z" fill="#933f3f" stroke="#1a1a1a" stroke-width="1.3"/>
<circle cx="535.80" cy="240.80" r="5.3" fill="#de3427" stroke="#1a1a1a" stroke-width="1.3"/>
<path d="M542.50 225.60L548.50 235.30L536.50 235.30Z" fill="#7cc142" stroke="#1a1a1a" stroke-width="1.3" stroke-linejoin="miter"/>
<path d="M552.50 222.70L557.40 230.30L552.50 237.90L547.60 230.30Z" fill="#f4924b" stroke="#1a1a1a" stroke-width="1.3"/>
<circle cx="560.00" cy="231.70" r="5.3" fill="#de3427" stroke="#1a1a1a" stroke-width="1.3"/>
<rect x="586.90" y="210.70" width="10.6" height="10.6" fill="#cbeeed" stroke="#1a1a1a" stroke-width="1.3"/>
<rect x="476.70" y="238.50" width="10.6" height="10.6" fill="#cbeeed" stroke="#1a1a1a" stroke-width="1.3"/>
<circle cx="490.80" cy="247.50" r="5.3" fill="#de3427" stroke="#1a1a1a" stroke-width="1.3"/>
<rect x="446.10" y="242.60" width="10.6" height="10.6" fill="#cbeeed" stroke="#1a1a1a" stroke-width="1.3"/>
<rect x="438.90" y="250.00" width="10.6" height="10.6" fill="#cbeeed" stroke="#1a1a1a" stroke-width="1.3"/>
<rect x="425.30" y="260.10" width="10.6" height="10.6" fill="#cbeeed" stroke="#1a1a1a" stroke-width="1.3"/>
<rect x="388.60" y="274.10" width="10.6" height="10.6" fill="#cbeeed" stroke="#1a1a1a" stroke-width="1.3"/>
<line x1="399.8" y1="57" x2="399.8" y2="72" stroke="#000" stroke-width="2.2"/>
<path d="M395.2 70.2L404.6 70.2L399.8 79.2Z" fill="#000"/>
<text x="429.6" y="69.3" font-size="12.5" text-anchor="start" font-weight="normal" font-style="normal" textLength="78.6" lengthAdjust="spacingAndGlyphs">Accumulation</text>
<text x="410.3" y="79.4" font-size="12.5" text-anchor="start" font-weight="normal" font-style="normal" textLength="116.9" lengthAdjust="spacingAndGlyphs">(gabbroic eclogites)</text>
<text x="499.5" y="166.7" font-size="13" text-anchor="start" font-weight="normal" font-style="normal" textLength="104.2" lengthAdjust="spacingAndGlyphs">Oxidising sources</text>
<text x="471.3" y="272.5" font-size="13" text-anchor="start" font-weight="normal" font-style="normal" textLength="104.5" lengthAdjust="spacingAndGlyphs">Reducing sources</text>
<text transform="translate(459.9,229.5) rotate(-14.6)" font-size="14" textLength="81.5" lengthAdjust="spacingAndGlyphs">Differentiation</text>
<text x="619.5" y="286.5" font-size="26" text-anchor="start" font-weight="normal" font-style="normal">b</text>
<rect x="566.2" y="28.6" width="65.4" height="21.9" rx="1.5" fill="#fff" stroke="#1a1a1a" stroke-width="1.1"/>
<path d="M577.50 33.20L579.09 37.62L583.78 37.76L580.07 40.63L581.38 45.14L577.50 42.50L573.62 45.14L574.93 40.63L571.22 37.76L575.91 37.62Z" fill="#ece43c" stroke="#000" stroke-width="2.0" stroke-linejoin="miter"/>
<text x="589.0" y="44.7" font-size="13.6" text-anchor="start" font-weight="normal" font-style="normal" textLength="38.6" lengthAdjust="spacingAndGlyphs">MORB</text>
</svg>
</body></html>
